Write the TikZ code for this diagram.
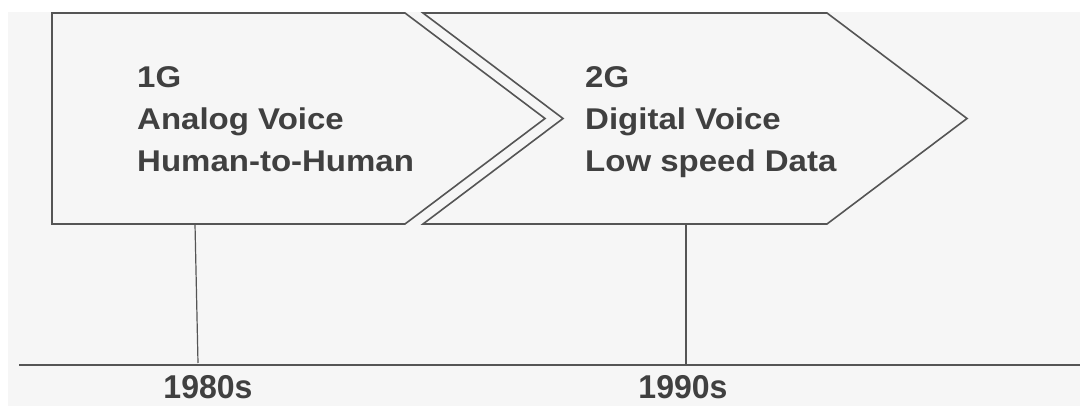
\documentclass[tikz,border=0pt]{standalone}
\usepackage{fontspec}
\setmainfont{Liberation Sans}
\newfontfamily\genfont[FakeStretch=1.1]{Liberation Sans}
\newfontfamily\yearfont[FakeStretch=0.97]{Liberation Sans}
\usetikzlibrary{positioning}
\definecolor{bggray}{HTML}{F6F6F6}
\definecolor{linegray}{HTML}{555555}
\definecolor{textgray}{HTML}{404040}

\begin{document}
\begin{tikzpicture}[x=1pt, y=-1pt,
    chev/.style = {draw=linegray, line width=1.6pt, fill=bggray, line join=miter},
    gen/.style = {font=\genfont\bfseries\fontsize{30}{42}\selectfont, text=textgray, align=left, anchor=north west, inner sep=0pt},
    year/.style = {font=\yearfont\bfseries\fontsize{33}{38}\selectfont, text=textgray, anchor=north, inner sep=0pt},
    tick/.style = {draw=linegray, line width=1.2pt}]
    \useasboundingbox (0,0) rectangle (1080,406);
    \fill[bggray] (8,12) rectangle (1080,406);
    % generations
    \draw[chev] (52,13) -- (405,13) -- (545,118.5) -- (405,224) -- (52,224) -- cycle;
    \draw[chev] (423,13) -- (827,13) -- (967,118.5) -- (827,224) -- (423,224) -- (563,118.5) -- cycle;
    \node[gen] (g1) at (137,66) {1G\\Analog Voice\\Human-to-Human};
    \node[gen] (g2) at (585,66) {2G\\Digital Voice\\Low speed Data};
    % timeline
    \coordinate (axisL) at (19,365);
    \coordinate (axisR) at (1080,365);
    \draw[draw=linegray, line width=1.6pt] (axisL) -- (axisR);
    \coordinate (b1) at (195,224);
    \coordinate (t1) at (198,363);
    \coordinate (b2) at (686,224);
    \coordinate (t2) at (686,365);
    \draw[tick] (b1) -- (t1);
    \draw[tick] (b2) -- (t2);
    \node[year] (y1) [below=12pt of t1, xshift=10pt] {1980s};
    \node[year] (y2) [below=10pt of t2, xshift=-3pt] {1990s};
\end{tikzpicture}
\end{document}
